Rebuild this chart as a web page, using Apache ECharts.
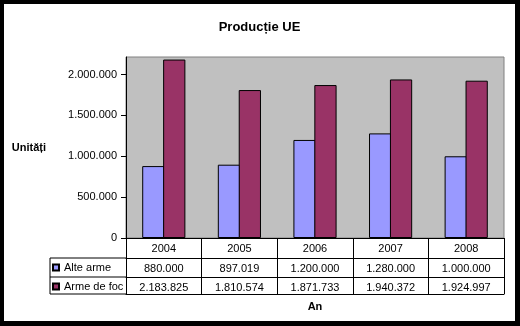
<!DOCTYPE html>
<html>
<head>
<meta charset="utf-8">
<script src="https://cdn.jsdelivr.net/npm/echarts@6/dist/echarts.min.js"></script>
<style>
  html, body { margin: 0; padding: 0; background: #000; }
  #frame { width: 520px; height: 326px; box-sizing: border-box; border-style: solid; border-color: #000; border-width: 4px 5px 5px 4px; background: #fff; }
  #chart { width: 511px; height: 317px; }
</style>
</head>
<body>
<div id="frame"><div id="chart"></div></div>
<script>
// Production figures per year
const years = ['2004', '2005', '2006', '2007', '2008'];
const alteArme = [880000, 897019, 1200000, 1280000, 1000000];
const armeDeFoc = [2183825, 1810574, 1871733, 1940372, 1924997];
const seriesNames = ['Alte arme', 'Arme de foc'];
const yTicks = [0, 500000, 1000000, 1500000, 2000000];

const FONT = '"Liberation Sans", Arial, sans-serif';

// Thousands separated with dots: 1234567 -> 1.234.567
function fmt(v) {
  return String(Math.round(v)).replace(/\B(?=(\d{3})+(?!\d))/g, '.');
}

const chart = echarts.init(document.getElementById('chart'), null, { renderer: 'canvas' });

const GRID = { left: 122, top: 53, width: 378, height: 181 };
const rowOffsets = [0, 20, 39, 56];

function tableAxis(data, offset, tickLen, showLabel, extra) {
  return Object.assign({
    type: 'category',
    data: data,
    gridIndex: 0,
    position: 'bottom',
    offset: offset,
    boundaryGap: true,
    axisLine: { show: true, lineStyle: { color: '#000', width: 1 } },
    axisTick: { show: tickLen > 0, length: tickLen, interval: 0, lineStyle: { color: '#000', width: 1 } },
    axisLabel: { show: showLabel, interval: 0, margin: 5, color: '#000', fontFamily: FONT, fontSize: 11 },
    splitLine: { show: false }
  }, extra || {});
}

// Neighbouring bars share one outline: a slight negative gap lets the borders coincide
const BAR_GAP = '-6%';
const CAT_GAP = '42.9%';

chart.setOption({
  animation: false,
  textStyle: { fontFamily: FONT },
  title: {
    text: 'Producție UE',
    left: 'center',
    top: 12,
    textStyle: { fontFamily: FONT, fontSize: 13, fontWeight: 'bold', color: '#000' }
  },
  legend: {
    orient: 'vertical',
    left: 48,
    top: 257,
    padding: 0,
    itemWidth: 6,
    itemHeight: 6,
    itemGap: 6,
    selectedMode: false,
    icon: 'rect',
    textStyle: { fontFamily: FONT, fontSize: 11, color: '#000', lineHeight: 13 },
    data: seriesNames
  },
  grid: Object.assign({
    show: true,
    backgroundColor: '#C0C0C0',
    borderColor: '#808080',
    borderWidth: 1,
    containLabel: false
  }, GRID),
  xAxis: [
    tableAxis(years, rowOffsets[0], 20, true),
    tableAxis(alteArme.map(fmt), rowOffsets[1], 19, true),
    tableAxis(armeDeFoc.map(fmt), rowOffsets[2], 17, true, {
      name: 'An',
      nameLocation: 'middle',
      nameGap: 24,
      nameTextStyle: { fontFamily: FONT, fontSize: 11, fontWeight: 'bold', color: '#000' }
    }),
    tableAxis(years, rowOffsets[3], 0, false)
  ],
  yAxis: {
    type: 'value',
    min: 0,
    max: 2215000,
    interval: 500000,
    name: 'Unități',
    nameLocation: 'middle',
    nameRotate: 0,
    nameGap: 80,
    nameTextStyle: { fontFamily: FONT, fontSize: 11, fontWeight: 'bold', color: '#000' },
    axisLine: { show: true, lineStyle: { color: '#000', width: 1 } },
    axisTick: { show: true, length: 5, lineStyle: { color: '#000' } },
    axisLabel: {
      margin: 9,
      color: '#000',
      fontFamily: FONT,
      fontSize: 11,
      showMaxLabel: false,
      formatter: function (v) { return yTicks.indexOf(v) >= 0 ? fmt(v) : ''; }
    },
    splitLine: { show: false }
  },
  graphic: [
    // Legend column of the data table
    { type: 'line', shape: { x1: 46, y1: 254, x2: 122, y2: 254 }, style: { stroke: '#000', lineWidth: 1 } },
    { type: 'line', shape: { x1: 46, y1: 273, x2: 122, y2: 273 }, style: { stroke: '#000', lineWidth: 1 } },
    { type: 'line', shape: { x1: 46, y1: 290, x2: 122, y2: 290 }, style: { stroke: '#000', lineWidth: 1 } },
    { type: 'line', shape: { x1: 46, y1: 254, x2: 46, y2: 290 }, style: { stroke: '#000', lineWidth: 1 } }
  ],
  series: [
    {
      name: seriesNames[0],
      type: 'bar',
      xAxisIndex: 0,
      data: alteArme,
      barGap: BAR_GAP,
      barCategoryGap: CAT_GAP,
      itemStyle: { color: '#9999FF', borderColor: '#000', borderWidth: 1 }
    },
    {
      name: seriesNames[1],
      type: 'bar',
      xAxisIndex: 0,
      data: armeDeFoc,
      barGap: BAR_GAP,
      barCategoryGap: CAT_GAP,
      itemStyle: { color: '#993366', borderColor: '#000', borderWidth: 1 }
    }
  ]
});
</script>
</body>
</html>
